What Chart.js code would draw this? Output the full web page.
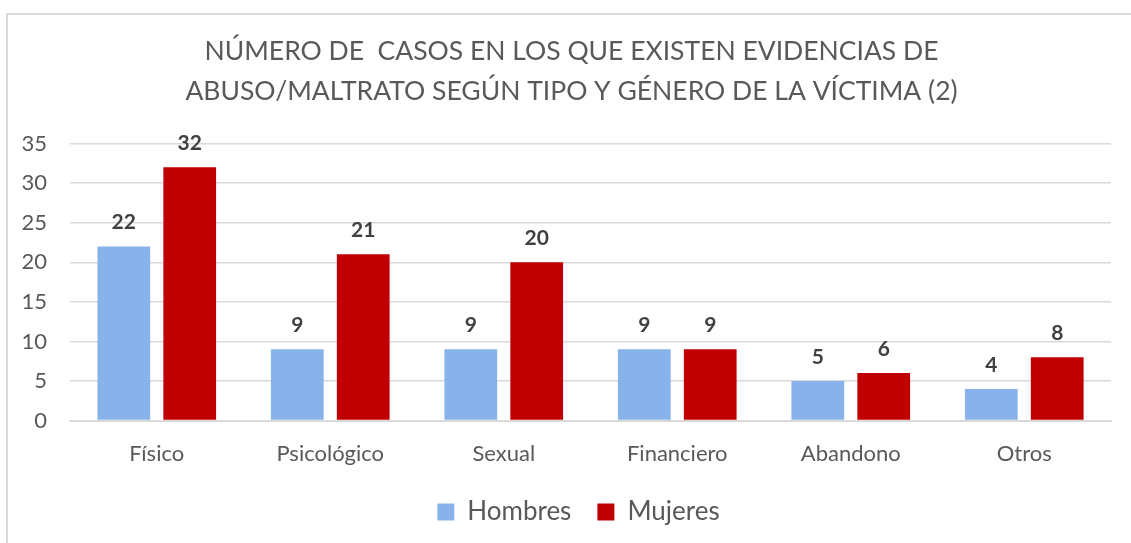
<!DOCTYPE html>
<html>
<head>
<meta charset="utf-8">
<script src="https://cdn.jsdelivr.net/npm/chart.js@4/dist/chart.umd.min.js"></script>
<style>
  html, body { margin: 0; padding: 0; background: #fff; overflow: hidden; }
  #wrap { position: absolute; left: 0; top: 0; width: 1131px; height: 543px; }
  #frame { position: absolute; left: 6px; top: 13px; width: 1200px; height: 600px;
           border: 2px solid #d9d9d9; box-sizing: border-box; }
</style>
</head>
<body>
<div id="frame"></div>
<div id="wrap"><canvas id="grafico"></canvas></div>
<script>
/* casos con evidencias de abuso/maltrato, por tipo y género */

const categorias = ['Físico', 'Psicológico', 'Sexual', 'Financiero', 'Abandono', 'Otros'];
const hombres = [22, 9, 9, 9, 5, 4];
const mujeres = [32, 21, 20, 9, 6, 8];
const tituloLineas = [
  'NÚMERO DE  CASOS EN LOS QUE EXISTEN EVIDENCIAS DE',
  'ABUSO/MALTRATO SEGÚN TIPO Y GÉNERO DE LA VÍCTIMA (2)'
];

const FONT = "Lato, 'Open Sans', sans-serif";
const gris = '#595959';

// etiquetas de valor encima de cada barra
const etiquetas = {
  id: 'etiquetas',
  afterLayout(chart) {
    // título y leyenda centrados sobre el marco, no sobre el área del gráfico
    if (chart.titleBlock) {
      chart.titleBlock.left += 16;
      chart.titleBlock.right += 16;
    }
    if (chart.legend) {
      chart.legend.left += 23;
      chart.legend.right += 23;
      chart.legend.top -= 14;
      chart.legend.bottom -= 14;
    }
  },
  afterDatasetsDraw(chart) {
    const ctx = chart.ctx;
    ctx.save();
    ctx.font = 'bold 21px ' + FONT;
    ctx.fillStyle = '#404040';
    ctx.textAlign = 'center';
    ctx.textBaseline = 'middle';
    chart.data.datasets.forEach((ds, i) => {
      chart.getDatasetMeta(i).data.forEach((bar, j) => {
        ctx.fillText(String(ds.data[j]), bar.x, bar.y - 24);
      });
    });
    ctx.restore();
  }
};

new Chart(document.getElementById('grafico'), {
  type: 'bar',
  data: {
    labels: categorias,
    datasets: [
      { label: 'Hombres', data: hombres, backgroundColor: '#87b3ea' },
      { label: 'Mujeres', data: mujeres, backgroundColor: '#c00000' }
    ]
  },
  options: {
    responsive: true,
    maintainAspectRatio: false,
    animation: false,
    categoryPercentage: 0.76,
    barPercentage: 0.8,
    layout: { padding: { left: 0, right: 20, top: 8, bottom: -6 } },
    plugins: {
      title: {
        display: true,
        text: tituloLineas,
        color: gris,
        font: { family: FONT, size: 26.5, weight: 'normal', lineHeight: 1.5 },
        padding: { top: 24, bottom: 32 }
      },
      legend: {
        position: 'bottom',
        labels: {
          color: gris,
          font: { family: FONT, size: 26 },
          boxWidth: 17,
          boxHeight: 17,
          padding: 26
        }
      },
      tooltip: { enabled: false }
    },
    scales: {
      x: {
        grid: { display: false, drawTicks: false },
        border: { color: '#d9d9d9', width: 2 },
        ticks: { color: gris, font: { family: FONT, size: 22 }, padding: 20 }
      },
      y: {
        min: 0,
        max: 35,
        afterFit(scale) { scale.width = 70; },
        grid: { color: '#d9d9d9', lineWidth: 1.5, drawTicks: false },
        border: { display: false },
        ticks: { stepSize: 5, color: gris, font: { family: FONT, size: 22 }, padding: 23 }
      }
    }
  },
  plugins: [etiquetas]
});
</script>
</body>
</html>
